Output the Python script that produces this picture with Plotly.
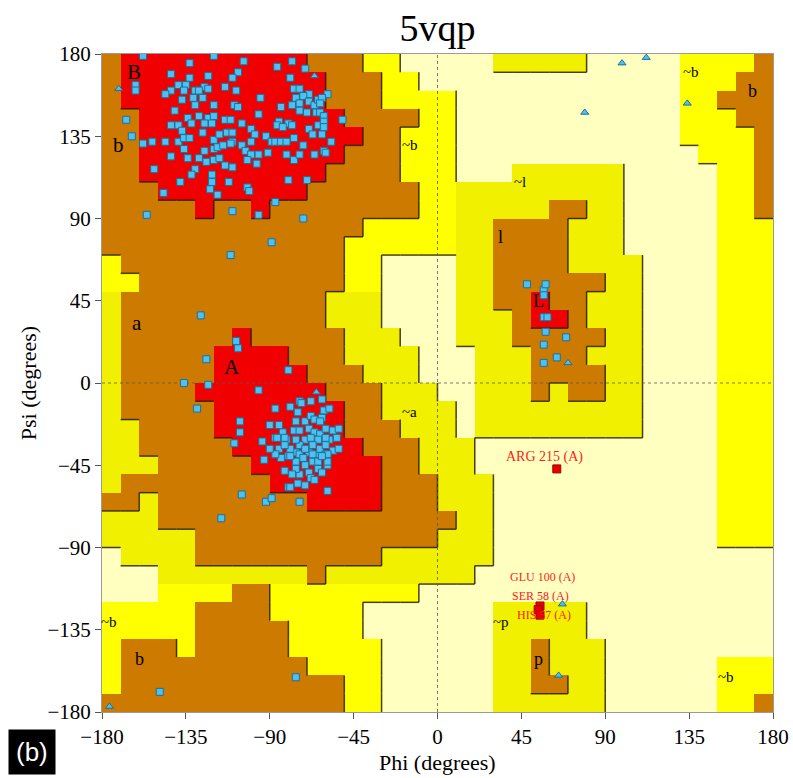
import re
import plotly.graph_objects as go

# ---------------- Region map (10-degree cells) ----------------
# Rows run psi 180 -> -180 (top to bottom), columns phi -180 -> 180.
# Run-length coded: R core, B allowed, Y/y generously allowed, W disallowed
REGION_ROWS = [
    "B1R10B3Y2W5y5W5Y4B1",
    "B1R11B3Y2W14Y3B2",
    "B1R11B3Y4W12Y2B3",
    "B2R11B4Y2W12Y3B2",
    "B2R12B2Y3W12Y4B1",
    "B2R11B3Y3W13Y3B1",
    "B2R10B4Y3W3y6W5Y2B1",
    "B3R8B6Y2y9W5Y2B1",
    "B5R1B2R1B8Y2y5B2y2W5Y2B1",
    "B14Y5y2B4y3W5Y3",
    "B13Y6y2B4y3W5Y3",
    "Y1B12Y2W4y2B4y4W4Y3",
    "Y2B11Y2W4y2B6y2W4Y3",
    "y1B11y3W4y2B2R1B2y3W4Y3",
    "y1B11y3W4y3B1R2B1y3W4Y3",
    "y1B6R1B5y3W3y3B5y2W4Y3",
    "y1B5R4B3y4W3y3B3y3W4Y3",
    "y1B5R5B3y3W3y3B4y2W4Y3",
    "y1B4R7B3y3W2y3B1y1B2y2W4Y3",
    "y1B5R7B2y4W1y9W4Y3",
    "y2B4R7B3y3W1y9W4Y3",
    "y2B5R7B3y3W13Y3",
    "y3B5R7B2y3W13Y3",
    "y1B8R6B3y3W12Y3",
    "B2y1B8R4B3y3W12Y3",
    "y3B16y2W12Y3",
    "y5B13y3W12Y3",
    "W1y4B10y6W15",
    "W3y8B1y8W16",
    "W3Y4B2Y8W19",
    "Y5B4Y5W7y5W10",
    "Y5B5Y4W7y5W10",
    "Y1B3Y1B5Y5W6y2B1y3W9",
    "Y1B10Y4W6y2B1y3W6Y3",
    "Y1B12Y2W6y2B2y2W6Y3",
    "B13Y2W6y6W6Y2B1",
]

# ---------------- Residues ----------------
# general residues (squares): phi, psi
gen_phi = [-158, -120, -133, -104, -78, -86, -71, -107, -143, -133, -123, -110, -79, -162, -139, -135, -125, -114,
           -108, -77, -74, -143, -146, -162, -136, -130, -128, -123, -69, -137, -131, -126, -72, -76, -95, -120,
           -109, -107, -78, -84, -74, -69, -66, -64, -141, -130, -134, -128, -123, -120, -114, -111, -105, -96,
           -85, -80, -74, -70, -65, -63, -167, -143, -139, -137, -132, -125, -121, -113, -110, -100, -98, -86,
           -83, -78, -69, -64, -164, -158, -153, -146, -139, -136, -133, -126, -120, -117, -110, -105, -100, -92,
           -89, -87, -84, -81, -77, -72, -67, -62, -143, -136, -134, -128, -125, -120, -118, -115, -111, -103,
           -100, -96, -91, -81, -77, -74, -66, -61, -152, -130, -124, -120, -117, -114, -110, -102, -97, -121,
           -132, -138, -121, -112, -102, -101, -80, -70, -147, -122, -118, -87, -156, -110, -96, -72, -89, -111,
           -59, -62, -63, -61, -51, -61, -61, -57, -60,
           -127, -108, -107, -124, -80, -136, -123, -96, -129, -87, -79, -74, -73, -75, -106, -106, -90, -85,
           -83, -81, -87, -82, -77, -76, -71, -69, -66, -63, -94, -109, -84, -80, -76, -73, -69, -67, -65, -71,
           -64, -69, -68, -80,
           -68, -66, -62, -60, -64, -67, -71, -74, -76, -79, -74, -68, -63, -60, -58, -56, -59, -62, -66, -71,
           -74, -76, -82, -85, -87, -90, -93, -61, -74, -71, -76, -67, -64, -60, -72, -79, -82, -86, -78, -75,
           -62, -58, -68,
           -63, -53, -60, -54, -56, -53, -59, -59, -62,
           -105, -92, -89, -74, -79, -116, -76, -149, -59,
           48, 57, 58, 57, 57, 59, 58, 57, 57, 69, 64]
gen_psi = [179, 179, 175, 176, 176, 173, 172, 170, 169, 167, 168, 167, 167, 163, 163, 163, 162, 162,
           160, 161, 161, 160, 158, 160, 160, 160, 160, 161, 158, 155, 156, 156, 157, 156, 156, 152,
           152, 151, 152, 151, 153, 154, 152, 155, 149, 152, 145, 146, 145, 146, 144, 144, 142, 147,
           143, 142, 149, 148, 148, 148, 144, 141, 141, 138, 142, 142, 142, 137, 137, 139, 136, 141,
           140, 141, 139, 141, 135, 131, 132, 132, 132, 134, 134, 137, 133, 136, 132, 130, 132, 135,
           132, 132, 132, 132, 134, 130, 136, 136, 124, 128, 123, 123, 127, 128, 129, 130, 131, 127,
           125, 125, 126, 125, 122, 125, 125, 127, 117, 117, 121, 122, 123, 119, 118, 122, 120, 114,
           114, 110, 110, 110, 107, 105, 111, 111, 104, 106, 103, 99, 92, 94, 92, 90, 77, 70,
           158, 156, 153, 146, 144, 143, 140, 132, 126,
           37, 23, 19, 13, 7, 0, -1, -4, -14, -14, -13, -10, -11, -16, -21, -27, -23, -23,
           -27, -31, -30, -30, -26, -21, -21, -25, -27, -28, -32, -33, -41, -40, -38, -41, -38, -43, -39, -45,
           -47, -49, -52, -57,
           -18, -20, -19, -25, -31, -34, -31, -34, -31, -36, -39, -30, -36, -39, -31, -26, -45, -49, -53, -56,
           -50, -47, -48, -36, -39, -36, -42, -15, -26, -36, -43, -39, -43, -34, -41, -40, -34, -30, -50, -55,
           -9, -14, -10,
           -21, -25, -30, -30, -37, -36, -39, -43, -40,
           -61, -65, -63, -65, -57, -74, -161, -169, -59,
           54, 51, 54, 48, 36, 36, 28, 21, 11, 25, 14]

# glycine residues (triangles)
gly_phi = [-171, -66, 99, 112, 79, 134, -65, 70, 67, 65, -176]
gly_psi = [161, 168, 175, 178, 148, 153, -5, 11, -121, -160, -177]

# residues in disallowed / generous regions (labelled)
out_phi = [64, 55, 54, 55]
out_psi = [-47, -122, -124, -127]
out_names = ["ARG 215 (A)", "GLU 100 (A)", "SER 58 (A)", "HIS 57 (A)"]

# region labels
reg_text = ["B", "b", "A", "a", "~b", "~a", "~l", "l", "L", "~b", "b", "~p", "p", "~b", "b", "~b"]
reg_phi = [-163, -171, -110, -161, -15, -15, 44, 34, 54, 136, 169, 34, 54, -176, -160, 155]
reg_psi = [170, 130, 9, 33, 130, -16, 110, 80, 45, 170, 160, -131, -151, -131, -151, -161]
reg_size = [21, 21, 21, 21, 15, 15, 15, 18, 18, 15, 18, 15, 18, 15, 18, 15]

TICKS = [-180, -135, -90, -45, 0, 45, 90, 135, 180]

# ---------------- Build ----------------
def decode(rle):
    s = "".join(ch * int(n) for ch, n in re.findall(r"([A-Za-z])(\d+)", rle))
    return (s + "W" * 36)[:36]

grid = [decode(r) for r in REGION_ROWS]
code_val = {"W": 0, "y": 1, "Y": 2, "B": 3, "R": 4}
rank = {"W": 1, "y": 2, "Y": 2, "B": 3, "R": 4}
z = [[code_val[c] for c in row] for row in grid]
phi_c = [-175 + 10 * i for i in range(36)]
psi_c = [175 - 10 * j for j in range(36)]

cols = ["#FFFFC0", "#F0F000", "#FFFF00", "#CC7A00", "#F00000"]
cs = []
for k, c in enumerate(cols):
    cs.append([k / 5, c])
    cs.append([(k + 1) / 5, c])

# shadow edges: where upper/left region outranks lower/right region
bx, by = [], []
for j in range(36):
    for i in range(35):
        if rank[grid[j][i]] > rank[grid[j][i + 1]]:
            x = -170 + 10 * i
            bx += [x, x, None]
            by += [180 - 10 * j, 170 - 10 * j, None]
for j in range(35):
    for i in range(36):
        if rank[grid[j][i]] > rank[grid[j + 1][i]]:
            yv = 170 - 10 * j
            bx += [-180 + 10 * i, -170 + 10 * i, None]
            by += [yv, yv, None]

SERIF = "Liberation Serif, Times New Roman, serif"

fig = go.Figure()
fig.add_trace(go.Heatmap(x=phi_c, y=psi_c, z=z, colorscale=cs, zmin=-0.5, zmax=4.5,
                         showscale=False, hoverinfo="skip"))
fig.add_trace(go.Scatter(x=bx, y=by, mode="lines", line=dict(color="rgba(40,30,0,0.85)", width=1.5),
                         hoverinfo="skip", showlegend=False))
fig.add_trace(go.Scatter(x=[-180, 180, None, 0, 0], y=[0, 0, None, -180, 180], mode="lines",
                         line=dict(color="rgba(90,90,90,0.8)", width=1, dash="dot"),
                         hoverinfo="skip", showlegend=False))
fig.add_trace(go.Scatter(x=gen_phi, y=gen_psi, mode="markers",
                         marker=dict(symbol="square", size=7, color="#4DC2F0",
                                     line=dict(color="#1E6F9C", width=1)), showlegend=False))
fig.add_trace(go.Scatter(x=gly_phi, y=gly_psi, mode="markers",
                         marker=dict(symbol="triangle-up", size=7, color="#4DC2F0",
                                     line=dict(color="#1E6F9C", width=1)), showlegend=False))
fig.add_trace(go.Scatter(x=out_phi, y=out_psi, mode="markers",
                         marker=dict(symbol="square", size=8, color="#E80000",
                                     line=dict(color="#A00000", width=1)), showlegend=False))

annotations = []
for t, px, py, s in zip(reg_text, reg_phi, reg_psi, reg_size):
    annotations.append(dict(x=px, y=py, text=t, showarrow=False, xref="x", yref="y",
                            font=dict(family=SERIF, size=s, color="black")))
shifts = [(-12, 12), (2, 29), (2, 14), (4, 0)]
sizes = [14, 12, 12, 12]
for name, px, py, (dx, dy), fs in zip(out_names, out_phi, out_psi, shifts, sizes):
    annotations.append(dict(x=px, y=py, text=name, showarrow=False, xref="x", yref="y",
                            xshift=dx, yshift=dy,
                            font=dict(family=SERIF, size=fs, color="#FF1A1A")))
# axis titles and panel tag
annotations.append(dict(x=0.5, y=-0.076, xref="paper", yref="paper", text="Phi (degrees)",
                        showarrow=False, xanchor="center", yanchor="middle",
                        font=dict(family=SERIF, size=22, color="black")))
annotations.append(dict(x=-0.110, y=0.5, xref="paper", yref="paper", text="Psi (degrees)",
                        showarrow=False, xanchor="center", yanchor="middle", textangle=-90,
                        font=dict(family=SERIF, size=22, color="black")))
annotations.append(dict(x=-0.140, y=-0.0957, xref="paper", yref="paper", text="(b)", showarrow=False,
                        xanchor="left", yanchor="bottom",
                        font=dict(family="Liberation Sans, Arial, sans-serif", size=26, color="white"),
                        bgcolor="black", borderpad=7))

axis_common = dict(range=[-180, 180], tickvals=TICKS, ticks="outside", ticklen=6, tickcolor="#555",
                   showgrid=False, zeroline=False, showline=True, mirror=True, linecolor="#9a9a9a",
                   linewidth=1, automargin=False,
                   tickfont=dict(family=SERIF, size=21, color="black"))

fig.update_layout(
    width=793, height=778,
    margin=dict(l=102, r=20, t=54, b=66, autoexpand=False),
    paper_bgcolor="white", plot_bgcolor="white",
    title=dict(text="5vqp", x=0.5, xref="paper", xanchor="center", y=0.964, yanchor="middle",
               font=dict(family=SERIF, size=38, color="black")),
    xaxis=dict(**axis_common),
    yaxis=dict(**axis_common),
    annotations=annotations,
    showlegend=False,
)

fig.write_html("out.html")
